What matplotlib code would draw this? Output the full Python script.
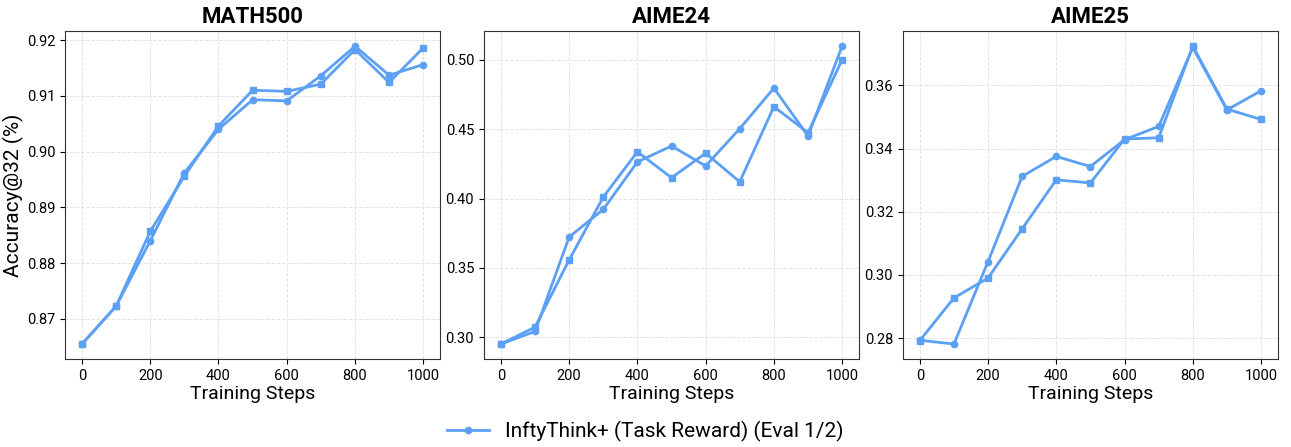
import matplotlib
matplotlib.use("Agg")
import matplotlib.pyplot as plt

plt.rcParams['font.family'] = ['Roboto', 'DejaVu Sans']

steps = [0, 100, 200, 300, 400, 500, 600, 700, 800, 900, 1000]
titles = ['MATH500', 'AIME24', 'AIME25']

# eval 1 (circles) and eval 2 (squares)
math500_a = [0.8655, 0.8723, 0.8840, 0.8962, 0.9040, 0.9093, 0.9091, 0.9136, 0.9189, 0.9137, 0.9156]
math500_b = [0.8655, 0.8723, 0.8857, 0.8956, 0.9046, 0.9110, 0.9108, 0.9121, 0.9183, 0.9124, 0.9186]
aime24_a = [0.2952, 0.3043, 0.3723, 0.3922, 0.4264, 0.4379, 0.4235, 0.4504, 0.4796, 0.4451, 0.5098]
aime24_b = [0.2952, 0.3074, 0.3558, 0.4011, 0.4337, 0.4150, 0.4327, 0.4121, 0.4662, 0.4475, 0.5000]
aime25_a = [0.2793, 0.2781, 0.3042, 0.3312, 0.3375, 0.3343, 0.3428, 0.3470, 0.3720, 0.3522, 0.3583]
aime25_b = [0.2792, 0.2927, 0.2990, 0.3146, 0.3301, 0.3291, 0.3430, 0.3434, 0.3724, 0.3525, 0.3492]

series = [(math500_a, math500_b), (aime24_a, aime24_b), (aime25_a, aime25_b)]
color = '#5BA0F5'

fig, axes = plt.subplots(1, 3, figsize=(12.91, 4.47), dpi=100)
fig.subplots_adjust(left=0.0503, right=0.99, top=0.93, bottom=0.197, wspace=0.116)

for ax, title, (a, b) in zip(axes, titles, series):
    line, = ax.plot(steps, a, color=color, marker='o', markersize=4.5, linewidth=2,
                    label='InftyThink+ (Task Reward) (Eval 1/2)')
    ax.plot(steps, b, color=color, marker='s', markersize=5, linewidth=2)
    ax.set_title(title, fontsize=16, fontweight='bold', pad=6)
    ax.set_xlabel('Training Steps', fontsize=14, labelpad=2)
    ax.set_xticks([0, 200, 400, 600, 800, 1000])
    ax.tick_params(labelsize=10.5)
    ax.grid(True, linestyle='--', color='#dddddd', linewidth=0.7, alpha=0.8)
    for s in ax.spines.values():
        s.set_color('#333333')

axes[0].set_ylabel('Accuracy@32 (%)', fontsize=15, labelpad=2)
axes[0].set_yticks([0.87, 0.88, 0.89, 0.90, 0.91, 0.92])
axes[1].set_yticks([0.30, 0.35, 0.40, 0.45, 0.50])
axes[2].set_yticks([0.28, 0.30, 0.32, 0.34, 0.36])

fig.legend(handles=[line], loc='lower center', bbox_to_anchor=(0.5, -0.03), frameon=False,
           fontsize=15)

fig.savefig('out.png')
